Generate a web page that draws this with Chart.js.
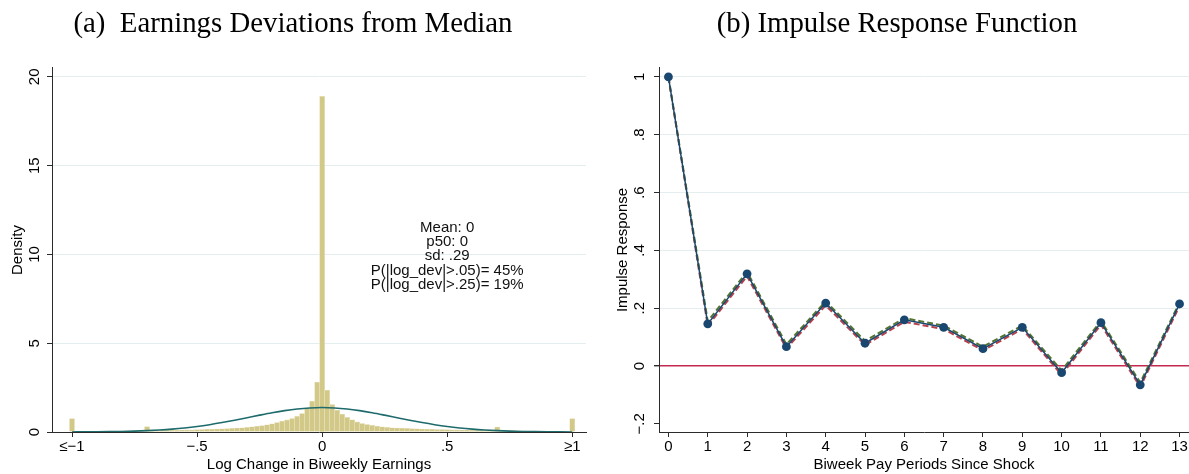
<!DOCTYPE html>
<html>
<head>
<meta charset="utf-8">
<title>Earnings deviations and impulse response</title>
<script src="https://cdn.jsdelivr.net/npm/chart.js@4"></script>
<style>
  html, body { margin: 0; padding: 0; background: #fff; overflow: hidden; width: 1189px; height: 474px; }
  #left  { position: absolute; left: 0;     top: 0; width: 595px; height: 474px; }
  #right { position: absolute; left: 605px; top: 0; width: 594px; height: 474px; }
</style>
</head>
<body>
<div id="left"><canvas id="histChart"></canvas></div>
<div id="right"><canvas id="irfChart"></canvas></div>
<script>
// ---------- Panel (a): histogram of log earnings deviations ----------
const binCenters = [
  -1.00, -0.98, -0.96, -0.94, -0.92, -0.90, -0.88, -0.86, -0.84, -0.82,
  -0.80, -0.78, -0.76, -0.74, -0.72, -0.70, -0.68, -0.66, -0.64, -0.62,
  -0.60, -0.58, -0.56, -0.54, -0.52, -0.50, -0.48, -0.46, -0.44, -0.42,
  -0.40, -0.38, -0.36, -0.34, -0.32, -0.30, -0.28, -0.26, -0.24, -0.22,
  -0.20, -0.18, -0.16, -0.14, -0.12, -0.10, -0.08, -0.06, -0.04, -0.02,
   0.00,  0.02,  0.04,  0.06,  0.08,  0.10,  0.12,  0.14,  0.16,  0.18,
   0.20,  0.22,  0.24,  0.26,  0.28,  0.30,  0.32,  0.34,  0.36,  0.38,
   0.40,  0.42,  0.44,  0.46,  0.48,  0.50,  0.52,  0.54,  0.56,  0.58,
   0.60,  0.62,  0.64,  0.66,  0.68,  0.70,  0.72,  0.74,  0.76,  0.78,
   0.80,  0.82,  0.84,  0.86,  0.88,  0.90,  0.92,  0.94,  0.96,  0.98,
   1.00
];
const binDensity = [
  0.75, 0.03, 0.03, 0.03, 0.04, 0.04, 0.04, 0.05, 0.05, 0.05,
  0.06, 0.06, 0.06, 0.07, 0.07, 0.30, 0.08, 0.08, 0.09, 0.09,
  0.10, 0.10, 0.11, 0.12, 0.12, 0.13, 0.14, 0.15, 0.16, 0.17,
  0.18, 0.19, 0.20, 0.22, 0.24, 0.26, 0.29, 0.32, 0.36, 0.41,
  0.46, 0.53, 0.61, 0.68, 0.76, 0.88, 1.04, 1.35, 1.73, 2.80,
  18.9, 2.35, 1.55, 1.22, 1.00, 0.82, 0.69, 0.57, 0.48, 0.42,
  0.37, 0.33, 0.29, 0.26, 0.24, 0.22, 0.21, 0.20, 0.19, 0.18,
  0.17, 0.16, 0.15, 0.14, 0.14, 0.13, 0.12, 0.12, 0.11, 0.11,
  0.10, 0.10, 0.09, 0.09, 0.08, 0.28, 0.08, 0.07, 0.07, 0.06,
  0.06, 0.05, 0.05, 0.05, 0.04, 0.04, 0.04, 0.03, 0.03, 0.03,
  0.75
];
// Overlaid normal density (mean 0, sd .29)
const curveX = [
  -1.00, -0.95, -0.90, -0.85, -0.80, -0.75, -0.70, -0.65, -0.60, -0.55,
  -0.50, -0.45, -0.40, -0.35, -0.30, -0.25, -0.20, -0.15, -0.10, -0.05,
   0.00,  0.05,  0.10,  0.15,  0.20,  0.25,  0.30,  0.35,  0.40,  0.45,
   0.50,  0.55,  0.60,  0.65,  0.70,  0.75,  0.80,  0.85,  0.90,  0.95,
   1.00
];
const curveY = [
  0.004, 0.006, 0.011, 0.019, 0.031, 0.049, 0.075, 0.112, 0.162, 0.228,
  0.311, 0.413, 0.531, 0.664, 0.806, 0.949, 1.085, 1.203, 1.296, 1.355,
  1.376, 1.355, 1.296, 1.203, 1.085, 0.949, 0.806, 0.664, 0.531, 0.413,
  0.311, 0.228, 0.162, 0.112, 0.075, 0.049, 0.031, 0.019, 0.011, 0.006,
  0.004
];
const histXTicks = [-1, -0.5, 0, 0.5, 1];
const histXLabels = ['\u2264\u22121', '\u2212.5', '0', '.5', '\u22651'];
const histYTicks = [0, 5, 10, 15, 20];
const histYLabels = ['0', '5', '10', '15', '20'];
const statsLines = [
  'Mean: 0',
  'p50: 0',
  'sd: .29',
  'P(|log_dev|>.05)= 45%',
  'P(|log_dev|>.25)= 19%'
];

// ---------- Panel (b): impulse response ----------
const periods = [0, 1, 2, 3, 4, 5, 6, 7, 8, 9, 10, 11, 12, 13];
const irf      = [1.000, 0.146, 0.319, 0.067, 0.218, 0.079, 0.160, 0.134, 0.060, 0.134, -0.023, 0.150, -0.065, 0.215];
const irfUpper = [1.000, 0.155, 0.326, 0.075, 0.224, 0.087, 0.166, 0.140, 0.067, 0.140, -0.015, 0.156, -0.057, 0.220];
const irfLower = [1.000, 0.139, 0.311, 0.061, 0.210, 0.073, 0.153, 0.128, 0.054, 0.128, -0.030, 0.143, -0.072, 0.208];
const irfXTicks = [0, 1, 2, 3, 4, 5, 6, 7, 8, 9, 10, 11, 12, 13];
const irfYTicks = [-0.2, 0, 0.2, 0.4, 0.6, 0.8, 1];
const irfYLabels = ['\u2212.2', '0', '.2', '.4', '.6', '.8', '1'];

// ---------- shared styling ----------
const SANS = "'Liberation Sans', Arial, sans-serif";
const SERIF = "'Liberation Serif', 'Times New Roman', serif";
const AXIS = '#2b2b2b';
const GRID = '#e4eeef';
const TITLE_FONT = { family: SERIF, size: 28.8, weight: 'normal' };
const TITLE_PAD = { top: 7, bottom: 26.4 };

Chart.defaults.font.family = SANS;
Chart.defaults.color = '#000';

function fixedTicks(values) {
  return function (scale) { scale.ticks = values.map(v => ({ value: v })); };
}

// Writes the summary statistics inside panel (a)
const statsLabel = {
  id: 'statsLabel',
  afterDatasetsDraw(chart, args, opts) {
    const { ctx, scales: { x, y } } = chart;
    ctx.save();
    ctx.font = opts.font;
    ctx.fillStyle = opts.color;
    ctx.textAlign = 'center';
    ctx.textBaseline = 'middle';
    const cx = x.getPixelForValue(opts.x);
    const cy = y.getPixelForValue(opts.y);
    statsLines.forEach((t, i) => ctx.fillText(t, cx, cy + i * opts.lineGap));
    ctx.restore();
  }
};

new Chart(document.getElementById('histChart'), {
  type: 'bar',
  data: {
    datasets: [
      {
        type: 'line',
        data: curveX.map((x, i) => ({ x, y: curveY[i] })),
        borderColor: '#1f6b6c',
        borderWidth: 1.6,
        pointRadius: 0,
        cubicInterpolationMode: 'monotone',
        fill: false
      },
      {
        type: 'bar',
        data: binCenters.map((x, i) => ({ x, y: binDensity[i] })),
        backgroundColor: 'rgb(210,201,136)',
        borderColor: 'rgb(230,224,186)',
        borderWidth: { left: 0.6, right: 0.6, top: 0.6, bottom: 0 },
        borderSkipped: false,
        barPercentage: 1,
        categoryPercentage: 1
      }
    ]
  },
  options: {
    responsive: true,
    maintainAspectRatio: false,
    animation: false,
    layout: { padding: { left: 0, right: 9, top: 0, bottom: 0 } },
    plugins: {
      legend: { display: false },
      tooltip: { enabled: false },
      title: {
        display: true,
        text: '(a)  Earnings Deviations from Median',
        font: TITLE_FONT,
        color: '#000',
        padding: TITLE_PAD
      },
      statsLabel: { x: 0.5, y: 11.5, lineGap: 14.2, font: '15px ' + SANS, color: '#111' }
    },
    scales: {
      x: {
        type: 'linear',
        min: -1.08,
        max: 1.055,
        offset: false,
        afterBuildTicks: fixedTicks(histXTicks),
        afterFit(scale) { scale.height = 42; },
        ticks: {
          autoSkip: false, maxRotation: 0, padding: 1,
          font: { size: 15 },
          callback: (v, i) => histXLabels[i]
        },
        grid: { offset: false, drawOnChartArea: false, drawTicks: true, tickLength: 5, tickColor: AXIS },
        border: { display: true, color: AXIS, width: 1 },
        title: { display: true, text: 'Log Change in Biweekly Earnings', font: { size: 15 }, padding: { top: 0, bottom: 0 } }
      },
      y: {
        type: 'linear',
        min: 0,
        max: 20.5,
        afterBuildTicks: fixedTicks(histYTicks),
        afterFit(scale) { scale.width = 52; },
        ticks: {
          minRotation: 90, maxRotation: 90, crossAlign: 'center', padding: 3.6,
          font: { size: 15 },
          callback: (v, i) => histYLabels[i]
        },
        grid: {
          color: ctx => (ctx.tick && ctx.tick.value === 0) ? 'rgba(0,0,0,0)' : GRID,
          lineWidth: 1, drawTicks: true, tickLength: 5, tickColor: AXIS
        },
        border: { display: true, color: AXIS, width: 1 },
        title: { display: true, text: 'Density', font: { size: 15 }, padding: { top: 9, bottom: 0 } }
      }
    }
  },
  plugins: [statsLabel]
});

new Chart(document.getElementById('irfChart'), {
  type: 'line',
  data: {
    datasets: [
      {
        data: periods.map((x, i) => ({ x, y: irf[i] })),
        borderColor: '#1a476f',
        borderWidth: 1.5,
        pointRadius: 4.4,
        pointBackgroundColor: '#1a476f',
        pointBorderColor: '#1a476f',
        pointBorderWidth: 0,
        tension: 0,
        fill: false
      },
      {
        data: periods.map((x, i) => ({ x, y: irfUpper[i] })),
        borderColor: '#55752f',
        borderWidth: 2,
        borderDash: [6, 3],
        pointRadius: 0,
        tension: 0,
        fill: false
      },
      {
        data: periods.map((x, i) => ({ x, y: irfLower[i] })),
        borderColor: '#b8404c',
        borderWidth: 2,
        borderDash: [6, 3],
        pointRadius: 0,
        tension: 0,
        fill: false
      }
    ]
  },
  options: {
    responsive: true,
    maintainAspectRatio: false,
    animation: false,
    layout: { padding: { left: 0, right: 10, top: 0, bottom: 0 } },
    plugins: {
      legend: { display: false },
      tooltip: { enabled: false },
      title: {
        display: true,
        text: '(b) Impulse Response Function',
        font: TITLE_FONT,
        color: '#000',
        padding: TITLE_PAD
      }
    },
    scales: {
      x: {
        type: 'linear',
        min: -0.24,
        max: 13.24,
        afterBuildTicks: fixedTicks(irfXTicks),
        afterFit(scale) { scale.height = 42; },
        ticks: { autoSkip: false, maxRotation: 0, padding: 1, font: { size: 15 } },
        grid: { drawOnChartArea: false, drawTicks: true, tickLength: 5, tickColor: AXIS },
        border: { display: true, color: AXIS, width: 1 },
        title: { display: true, text: 'Biweek Pay Periods Since Shock', font: { size: 15 }, padding: { top: 0, bottom: 0 } }
      },
      y: {
        type: 'linear',
        min: -0.228,
        max: 1.031,
        afterBuildTicks: fixedTicks(irfYTicks),
        afterFit(scale) { scale.width = 54; },
        ticks: {
          minRotation: 90, maxRotation: 90, crossAlign: 'center', padding: 3.5,
          font: { size: 15 },
          callback: (v, i) => irfYLabels[i]
        },
        grid: {
          // horizontal reference line at zero in red, light grid elsewhere
          color: ctx => {
            if (!ctx.tick) return GRID;
            if (ctx.index === 1) return '#c42a50';
            if (ctx.index === 0) return 'rgba(0,0,0,0)';
            return GRID;
          },
          lineWidth: ctx => (ctx.index === 1 ? 1.4 : 1),
          drawTicks: true, tickLength: 5, tickColor: AXIS
        },
        border: { display: true, color: AXIS, width: 1 },
        title: { display: true, text: 'Impulse Response', font: { size: 15 }, padding: { top: 9, bottom: 0 } }
      }
    }
  }
});
</script>
</body>
</html>
